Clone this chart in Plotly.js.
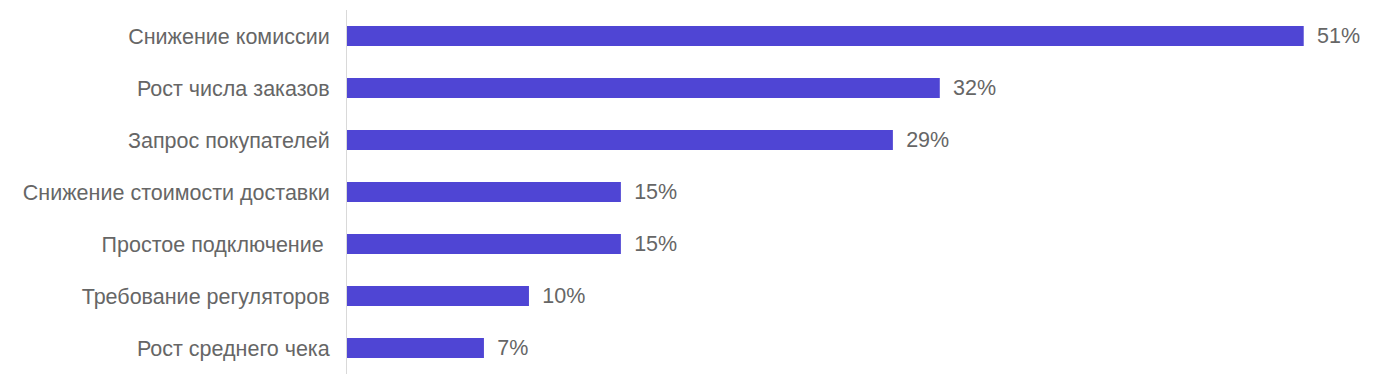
<!DOCTYPE html>
<html>
<head>
<meta charset="utf-8">
<script src="https://cdn.plot.ly/plotly-3.0.1.min.js"></script>
<style>html,body{margin:0;padding:0;background:#fff;}#chart{width:1374px;height:379px;}</style>
</head>
<body>
<div id="chart"></div>
<script>
const categories = [
  "Снижение комиссии",
  "Рост числа заказов",
  "Запрос покупателей",
  "Снижение стоимости доставки",
  "Простое подключение\u00a0",
  "Требование регуляторов",
  "Рост среднего чека"
];
const values = [51, 31.6, 29.1, 14.6, 14.6, 9.7, 7.3];
const valueLabels = ["51%", "32%", "29%", "15%", "15%", "10%", "7%"];

const FONT = "'Liberation Sans', Arial, sans-serif";

const trace = {
  type: "bar",
  orientation: "h",
  y: categories,
  x: values,
  text: valueLabels.map(t => "\u00a0\u2009" + t),
  textposition: "outside",
  constraintext: "none",
  cliponaxis: false,
  textfont: {family: FONT, size: 21.5, color: "#666666"},
  marker: {color: "#4F45D4"},
  hoverinfo: "none"
};

const layout = {
  width: 1374,
  height: 379,
  margin: {l: 347, r: 14, t: 10, b: 5},
  paper_bgcolor: "#ffffff",
  plot_bgcolor: "#ffffff",
  showlegend: false,
  bargap: 0.62,
  font: {family: FONT, size: 21.5, color: "#666666"},
  xaxis: {range: [0, 54], visible: false, showgrid: false, zeroline: false, fixedrange: true},
  yaxis: {
    type: "category",
    autorange: "reversed",
    showline: true,
    linecolor: "#d9d9d9",
    linewidth: 1,
    showgrid: false,
    zeroline: false,
    ticks: "",
    ticklabelstandoff: 12,
    tickfont: {family: FONT, size: 21.5, color: "#666666"}
  }
};

Plotly.newPlot("chart", [trace], layout, {displayModeBar: false, staticPlot: true});
</script>
</body>
</html>
